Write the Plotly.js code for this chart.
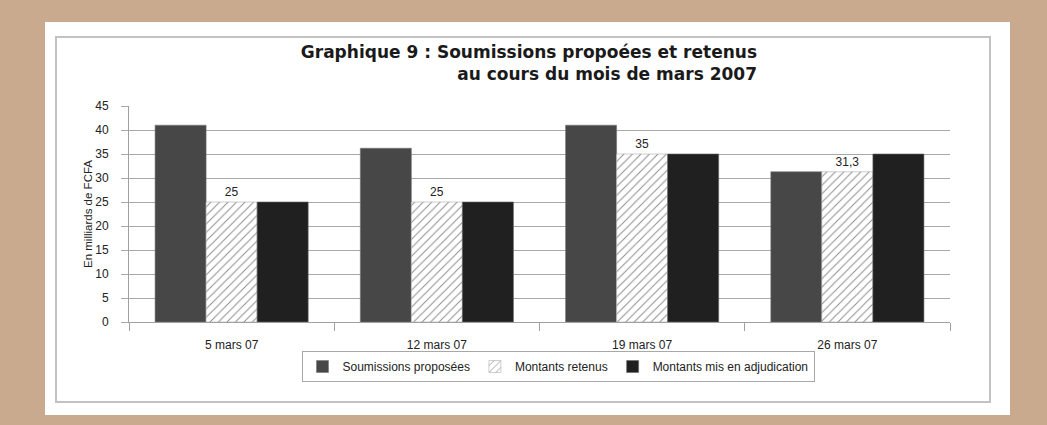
<!DOCTYPE html>
<html>
<head>
<meta charset="utf-8">
<script src="https://cdn.plot.ly/plotly-3.0.1.min.js"></script>
<style>html,body{margin:0;padding:0;background:#c9aa8e;}#chart{width:1047px;height:425px;}</style>
</head>
<body>
<div id="chart"></div>
<script>
const categories = ['5 mars 07', '12 mars 07', '19 mars 07', '26 mars 07'];
const soumissions = [41, 36.2, 41, 31.3];
const retenus = [25, 25, 35, 31.3];
const adjudication = [25, 25, 35, 35];
const seriesNames = ['Soumissions proposées', 'Montants retenus', 'Montants mis en adjudication'];
const yTicks = [0, 5, 10, 15, 20, 25, 30, 35, 40, 45];

// plot area in pixels (for placing frame shapes)
const L = 129, R = 950, T = 106, B = 322;
const px = v => (v - L) / (R - L);
const py = v => (B - v) / (B - T);

const traces = [
  {
    type: 'bar', name: seriesNames[0], x: categories, y: soumissions,
    marker: {color: '#474747', line: {color: '#777', width: 0.6}},
    hoverinfo: 'y'
  },
  {
    type: 'bar', name: seriesNames[1], x: categories, y: retenus,
    text: retenus.map(v => String(v).replace('.', ',')),
    textposition: 'outside', cliponaxis: false,
    textfont: {family: 'Liberation Sans, Arial, sans-serif', size: 12, color: '#222'},
    marker: {color: '#ffffff', line: {color: '#b0b0b0', width: 0.6},
      pattern: {shape: '/', fgcolor: '#8c8c8c', bgcolor: '#ffffff', size: 6, solidity: 0.16}},
    hoverinfo: 'y'
  },
  {
    type: 'bar', name: seriesNames[2], x: categories, y: adjudication,
    marker: {color: '#202020', line: {color: '#666', width: 0.6}},
    hoverinfo: 'y'
  }
];

const layout = {
  width: 1047, height: 425,
  paper_bgcolor: '#c9aa8e',
  plot_bgcolor: 'rgba(0,0,0,0)',
  margin: {l: L, r: 1047 - R, t: T, b: 425 - B},
  separators: ',.',
  barmode: 'group', bargap: 0.254, bargroupgap: 0,
  font: {family: 'Liberation Sans, Arial, sans-serif', size: 12, color: '#222'},
  title: {
    text: 'Graphique 9 : Soumissions propoées et retenus<br>au cours du mois de mars 2007',
    x: 757 / 1047, xanchor: 'right', xref: 'container',
    y: 1 - 58 / 425, yanchor: 'top', yref: 'container',
    font: {family: 'DejaVu Sans, sans-serif', size: 17, color: '#1a1a1a', weight: 'bold'}
  },
  xaxis: {
    type: 'category', tickson: 'boundaries',
    showgrid: false, showline: true, linecolor: '#a0a0a0', linewidth: 1,
    ticks: 'outside', ticklen: 8, tickcolor: '#a0a0a0',
    ticklabelstandoff: 12,
    tickfont: {size: 12, color: '#222'},
    fixedrange: true
  },
  yaxis: {
    range: [0, 45], tickvals: yTicks,
    showgrid: true, gridcolor: '#a8a8a8', gridwidth: 1,
    showline: true, linecolor: '#a0a0a0', linewidth: 1,
    ticks: 'outside', ticklen: 7, tickcolor: '#a8a8a8',
    ticklabelstandoff: 10,
    zeroline: false,
    tickfont: {size: 12, color: '#222'},
    title: {text: 'En milliards de FCFA', font: {size: 11.5, color: '#222'}, standoff: 0},
    fixedrange: true
  },
  showlegend: true,
  legend: {
    orientation: 'h', x: px(558), xanchor: 'center', y: py(351), yanchor: 'top',
    bordercolor: '#a8a8a8', borderwidth: 1, bgcolor: '#ffffff',
    font: {size: 12, color: '#222'},
    itemwidth: 30,
    traceorder: 'normal'
  },
  shapes: [
    {type: 'rect', xref: 'paper', yref: 'paper', layer: 'below',
      x0: px(45), x1: px(1010), y0: py(22), y1: py(415),
      fillcolor: '#ffffff', line: {width: 0}},
    {type: 'rect', xref: 'paper', yref: 'paper', layer: 'below',
      x0: px(56), x1: px(990), y0: py(37), y1: py(402),
      fillcolor: 'rgba(0,0,0,0)', line: {color: '#c2c2c2', width: 2}}
  ]
};

Plotly.newPlot('chart', traces, layout, {displayModeBar: false, staticPlot: true});
</script>
</body>
</html>
